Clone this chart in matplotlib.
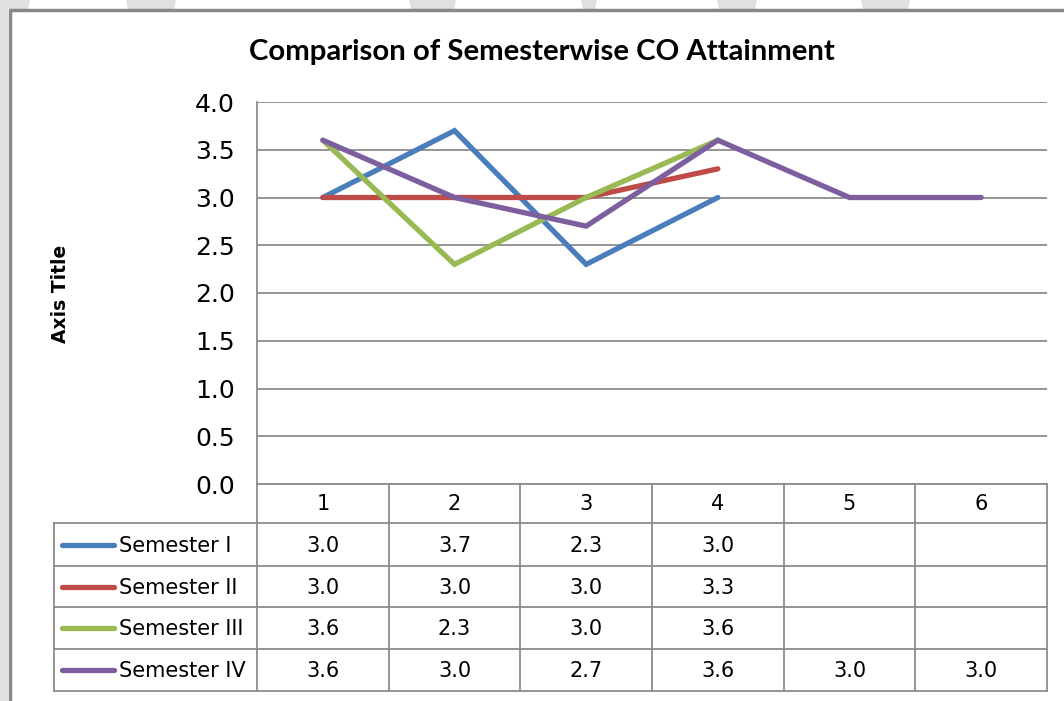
import numpy as np
import matplotlib.pyplot as plt
from matplotlib.patches import Polygon, Rectangle

TITLE = "Comparison of Semesterwise CO Attainment"
CATEGORIES = ["1", "2", "3", "4", "5", "6"]
SERIES_NAMES = ["Semester I", "Semester II", "Semester III", "Semester IV"]
SEM_I = [3.0, 3.7, 2.3, 3.0, None, None]
SEM_II = [3.0, 3.0, 3.0, 3.3, None, None]
SEM_III = [3.6, 2.3, 3.0, 3.6, None, None]
SEM_IV = [3.6, 3.0, 2.7, 3.6, 3.0, 3.0]
COLORS = ["#4a7ebb", "#be4b48", "#98b954", "#7d5fa0"]
Y_TICKS = [0.0, 0.5, 1.0, 1.5, 2.0, 2.5, 3.0, 3.5, 4.0]

W, H = 1064, 701
FONT = ["DejaVu Sans"]


def px_ax(fig, left, top, right, bottom):
    return fig.add_axes([left / W, 1 - bottom / H, (right - left) / W, (bottom - top) / H])


def main() -> int:
    plt.rcParams["font.family"] = FONT
    fig = plt.figure(figsize=(W / 100, H / 100), dpi=100)

    # overlay in pixel coords for frame, watermark, table
    bg = fig.add_axes([0, 0, 1, 1])
    bg.set_xlim(0, W)
    bg.set_ylim(H, 0)
    bg.axis("off")
    wm = "#e0e0e0"
    bg.add_patch(Rectangle((0, 0), 8, H, color=wm, lw=0))
    for x0, x1 in [(0, 30), (126, 176), (409, 456), (581, 597), (717, 757), (861, 910)]:
        bg.add_patch(Polygon([(x0, 0), (x1, 0), (x1 - 2, 9), (x0 + 2, 9)], color=wm, lw=0))
    bg.plot([9, W], [9.5, 9.5], color="#888888", lw=2.5, solid_capstyle="butt")
    bg.plot([9.5, 9.5], [9, H], color="#888888", lw=2.5, solid_capstyle="butt")

    bg.text(542, 52, TITLE, ha="center", va="center", fontsize=21.2,
            fontweight="bold", family=["Lato", "DejaVu Sans"])
    bg.text(60, 294, "Axis Title", ha="center", va="center", rotation=90,
            fontsize=13.5, fontweight="bold")

    # main plot
    plot_l, plot_t, plot_r, plot_b = 257, 102, 1047, 484
    ax = px_ax(fig, plot_l, plot_t, plot_r, plot_b)
    ax.set_xlim(0.5, len(CATEGORIES) + 0.5)
    ax.set_ylim(0, 4.0)
    ax.set_yticks(Y_TICKS)
    ax.set_yticklabels([f"{v:.1f}" for v in Y_TICKS], fontsize=18)
    ax.set_xticks([])
    ax.tick_params(axis="y", length=0, pad=16)
    ax.grid(axis="y", color="#8c8c8c", lw=1.3)
    ax.set_axisbelow(True)
    for side in ["top", "right", "bottom"]:
        ax.spines[side].set_visible(False)
    ax.spines["left"].set_color("#8c8c8c")
    ax.spines["left"].set_linewidth(1.3)
    ax.patch.set_alpha(0)

    x = np.arange(1, len(CATEGORIES) + 1)
    all_series = [SEM_I, SEM_II, SEM_III, SEM_IV]
    for vals, c in zip(all_series, COLORS):
        y = np.array([np.nan if v is None else v for v in vals])
        ax.plot(x, y, color=c, lw=3.8, solid_capstyle="round", solid_joinstyle="miter")

    # data table
    col_edges = np.linspace(plot_l, plot_r, len(CATEGORIES) + 1)
    grid_c = "#8c8c8c"
    head_b = 523
    row_edges = [523, 566, 607, 649, 691]
    leg_l = 54
    # header row
    for xe in col_edges:
        bg.plot([xe, xe], [plot_b, head_b], color=grid_c, lw=1.3)
    bg.plot([plot_l, plot_r], [plot_b, plot_b], color=grid_c, lw=1.3)
    for i, lab in enumerate(CATEGORIES):
        xc = (col_edges[i] + col_edges[i + 1]) / 2
        bg.text(xc, (plot_b + head_b) / 2 + 1, lab, ha="center", va="center", fontsize=15)
    # body rows
    for ye in row_edges:
        bg.plot([leg_l, plot_r], [ye, ye], color=grid_c, lw=1.3)
    for xe in [leg_l] + list(col_edges):
        bg.plot([xe, xe], [row_edges[0], row_edges[-1]], color=grid_c, lw=1.3)
    for r, (name, vals, c) in enumerate(zip(SERIES_NAMES, all_series, COLORS)):
        yc = (row_edges[r] + row_edges[r + 1]) / 2
        bg.plot([62, 114], [yc, yc], color=c, lw=3.8, solid_capstyle="round")
        bg.text(119, yc + 1, name, ha="left", va="center", fontsize=15)
        for i, v in enumerate(vals):
            if v is None:
                continue
            xc = (col_edges[i] + col_edges[i + 1]) / 2
            bg.text(xc, yc + 1, f"{v:.1f}", ha="center", va="center", fontsize=15)

    fig.savefig("out.png", dpi=100)
    plt.close(fig)
    return 0


if __name__ == "__main__":
    raise SystemExit(main())
